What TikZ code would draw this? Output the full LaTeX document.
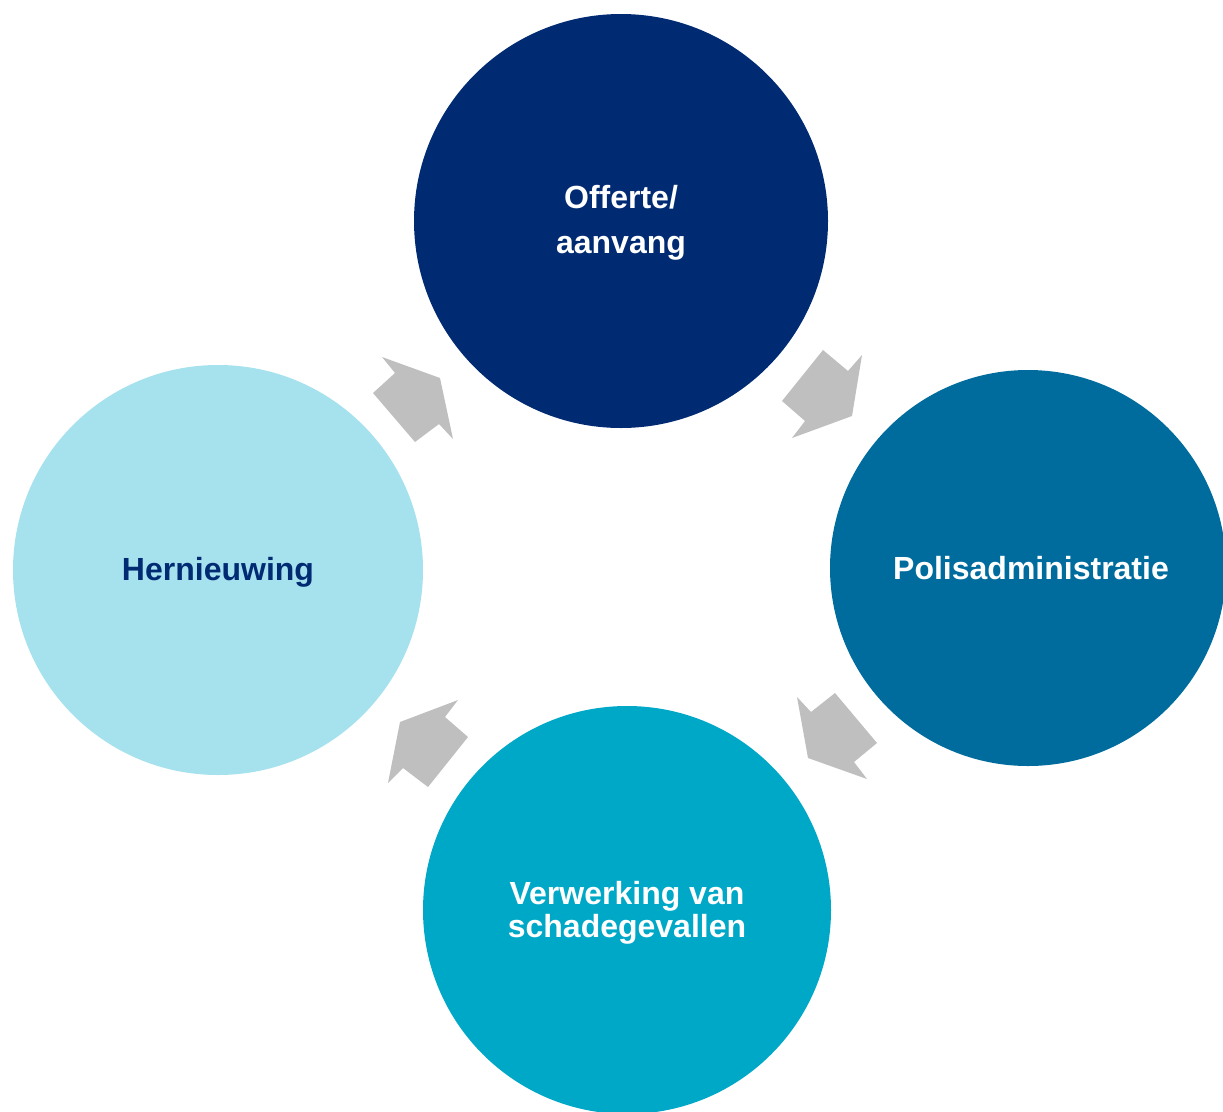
\documentclass[tikz,border=0pt]{standalone}
\usepackage{fontspec}
\setmainfont{Liberation Sans}
\definecolor{cNavy}{RGB}{0,43,115}
\definecolor{cTeal}{RGB}{0,108,158}
\definecolor{cCyan}{RGB}{0,168,200}
\definecolor{cLight}{RGB}{166,225,238}
\definecolor{cArrow}{RGB}{191,191,191}
\tikzset{
  phase/.style={circle, inner sep=0pt},
  phasetext/.style={inner sep=0pt, align=center, font=\fontsize{32}{33}\selectfont\bfseries},
  blockarrow/.style={fill=cArrow, draw=none}
}
\begin{document}
\begin{tikzpicture}[x=1pt,y=-1pt]
\useasboundingbox (0,0) rectangle (1223,1111);
\clip (0,0) rectangle (1223,1111);
\node[phase, fill=cNavy, minimum size=414pt] (offerte) at (621,221) {};
\node[phase, fill=cTeal, minimum size=396pt] (polis) at (1028,568) {};
\node[phase, fill=cCyan, minimum size=408pt] (schade) at (627,910) {};
\node[phase, fill=cLight, minimum size=410pt] (hern) at (218,570) {};
\node[phasetext, text=white] (toff) at (621,223) {Offerte/\\[12pt]aanvang};
\node[phasetext, text=white] (tpol) at (1031,568) {Polisadministratie};
\node[phasetext, text=white] (tsch) at (627,913) {Verwerking van\\schadegevallen};
\node[phasetext, text=cNavy] (ther) at (218,572) {Hernieuwing};
% block arrows
\fill[blockarrow] (373,393) -- (415,442) -- (439,424) -- (453,439) -- (440,378) -- (382,357) -- (395,373) -- cycle;
\fill[blockarrow] (823,350) -- (848,371) -- (862,355) -- (852,416) -- (792,438) -- (805,421) -- (782,401) -- cycle;
\fill[blockarrow] (835,693) -- (877,743) -- (854,762) -- (867,779) -- (808,758) -- (797,697) -- (811,712) -- cycle;
\fill[blockarrow] (458,700) -- (445,717) -- (468,737) -- (428,787) -- (403,768) -- (388,783) -- (400,722) -- cycle;
\end{tikzpicture}
\end{document}
